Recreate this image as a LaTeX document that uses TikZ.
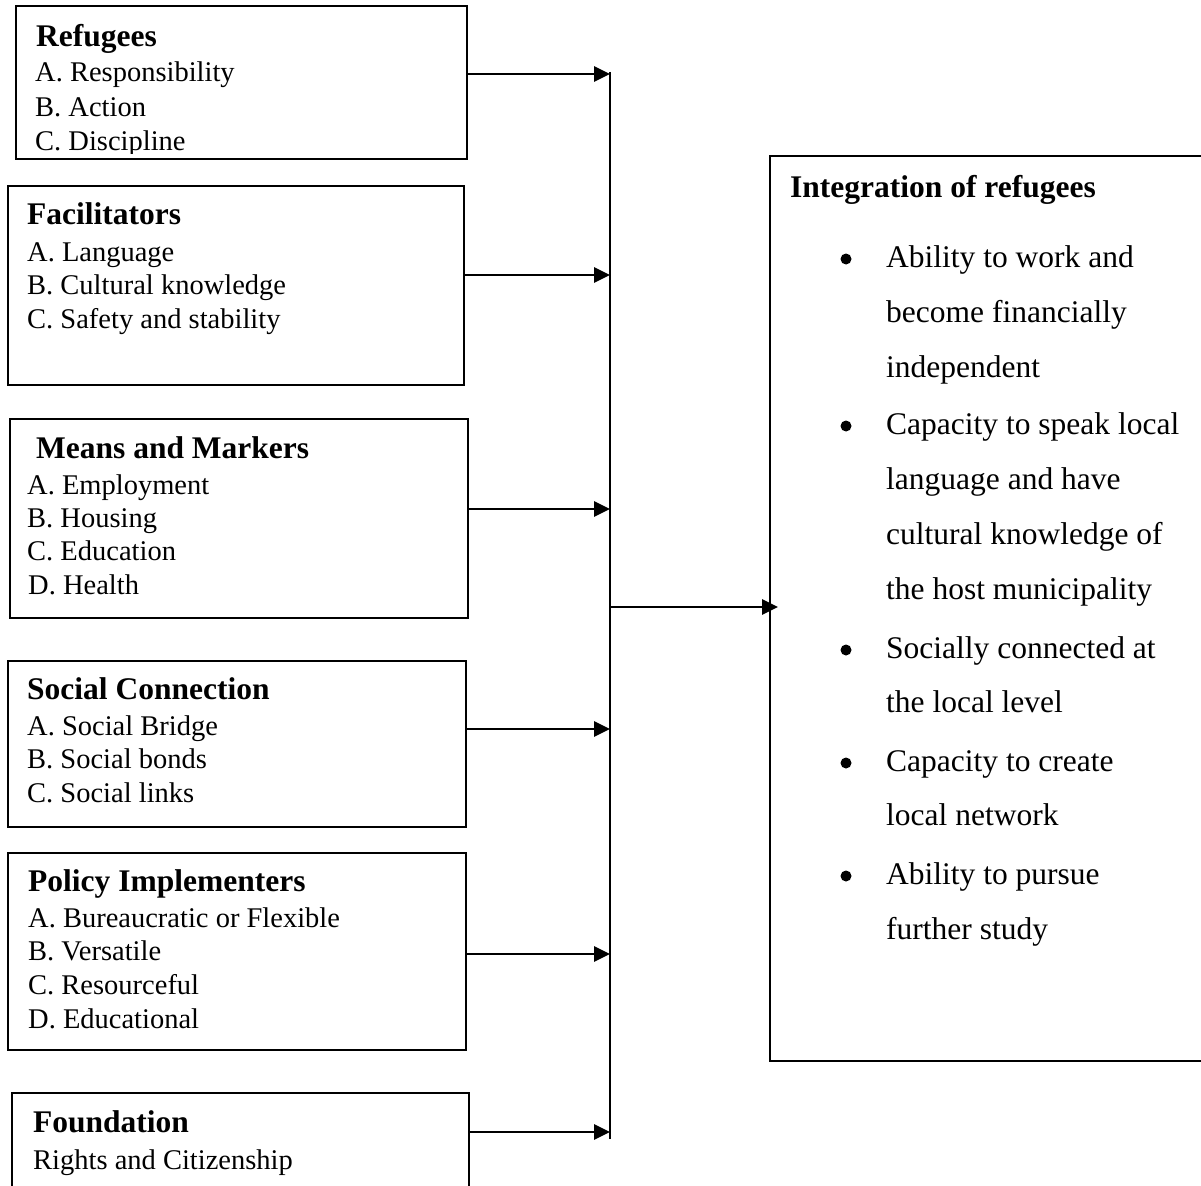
\documentclass[tikz,border=0pt]{standalone}
\usepackage{fontspec}
\setmainfont{Liberation Serif}
\usetikzlibrary{arrows.meta}
\begin{document}
\begin{tikzpicture}[x=1pt,y=-1pt,
 box/.style={draw,line width=2pt,inner sep=0,anchor=north west},
 hd/.style={anchor=base west,inner sep=0,font=\fontsize{31.5}{36}\selectfont\bfseries},
 it/.style={anchor=base west,inner sep=0,font=\fontsize{28.5}{33}\selectfont},
 rt/.style={anchor=base west,inner sep=0,font=\fontsize{31.5}{36}\selectfont},
 rh/.style={anchor=base west,inner sep=0,font=\fontsize{31.5}{36}\selectfont\bfseries},
 bul/.style={circle,fill,inner sep=0,minimum size=11pt},
 arr/.style={line width=2.8pt,-{Triangle[length=16pt,width=15pt]}},
 ln/.style={line width=2.2pt}]
\useasboundingbox (0,0) rectangle (1201,1185);
\clip (0,0) rectangle (1201,1185);
% boxes
\node[box,minimum width=451pt,minimum height=153pt] (refugees) at (15,5) {};
\node[box,minimum width=456pt,minimum height=199pt] (facil) at (7,185) {};
\node[box,minimum width=458pt,minimum height=199pt] (means) at (9,418) {};
\node[box,minimum width=458pt,minimum height=166pt] (social) at (7,660) {};
\node[box,minimum width=458pt,minimum height=197pt] (policy) at (7,852) {};
\node[box,minimum width=457pt,minimum height=120pt] (found) at (11,1092) {};
\node[box,minimum width=460pt,minimum height=905pt] (integ) at (769,155) {};
% texts
\begin{scope}
\clip (16,6) rectangle (465,154);
\node[hd] (r0) at (36,47) {Refugees};
\node[it] (r1) at (35,82) {A. Responsibility};
\node[it] (r2) at (35,117) {B. Action};
\node[it] (r3) at (35,151) {C. Discipline};
\end{scope}
\node[hd] (f0) at (27,224) {Facilitators};
\node[it] (f1) at (27,261) {A. Language};
\node[it] (f2) at (27,294) {B. Cultural knowledge};
\node[it] (f3) at (27,328) {C. Safety and stability};
\node[hd] (m0) at (36,458) {Means and Markers};
\node[it] (m1) at (27,494) {A. Employment};
\node[it] (m2) at (27,527) {B. Housing};
\node[it] (m3) at (27,560) {C. Education};
\node[it] (m4) at (28,594) {D. Health};
\node[hd] (s0) at (27,699) {Social Connection};
\node[it] (s1) at (27,735) {A. Social Bridge};
\node[it] (s2) at (27,768) {B. Social bonds};
\node[it] (s3) at (27,802) {C. Social links};
\node[hd] (p0) at (28,891) {Policy Implementers};
\node[it] (p1) at (28,927) {A. Bureaucratic or Flexible};
\node[it] (p2) at (28,960) {B. Versatile};
\node[it] (p3) at (28,994) {C. Resourceful};
\node[it] (p4) at (28,1028) {D. Educational};
\node[hd] (o0) at (33,1132) {Foundation};
\node[it] (o1) at (33,1169) {Rights and Citizenship};
% right box
\node[rh] (i0) at (790,197) {Integration of refugees};
\node[bul] (b1) at (846,259) {};
\node[rt] (i1) at (886,267) {Ability to work and};
\node[rt] (i2) at (886,322) {become financially};
\node[rt] (i3) at (886,377) {independent};
\node[bul] (b2) at (846,426) {};
\node[rt] (i4) at (886,434) {Capacity to speak local};
\node[rt] (i5) at (886,489) {language and have};
\node[rt] (i6) at (886,544) {cultural knowledge of};
\node[rt] (i7) at (886,599) {the host municipality};
\node[bul] (b3) at (846,650) {};
\node[rt] (i8) at (886,658) {Socially connected at};
\node[rt] (i9) at (886,712) {the local level};
\node[bul] (b4) at (846,763) {};
\node[rt] (i10) at (886,771) {Capacity to create};
\node[rt] (i11) at (886,825) {local network};
\node[bul] (b5) at (846,876) {};
\node[rt] (i12) at (886,884) {Ability to pursue};
\node[rt] (i13) at (886,939) {further study};
% connectors
\coordinate (top) at (610,72);
\coordinate (bot) at (610,1139);
\coordinate (t1) at (610,74);
\coordinate (t2) at (610,275);
\coordinate (t3) at (610,509);
\coordinate (t4) at (610,729);
\coordinate (t5) at (610,954);
\coordinate (t6) at (610,1132);
\coordinate (mid) at (610,607);
\coordinate (tip) at (778,607);
\draw[ln] (top) -- (bot);
\draw[arr] (refugees.east |- t1) -- (t1);
\draw[arr] (facil.east |- t2) -- (t2);
\draw[arr] (means.east |- t3) -- (t3);
\draw[arr] (social.east |- t4) -- (t4);
\draw[arr] (policy.east |- t5) -- (t5);
\draw[arr] (found.east |- t6) -- (t6);
\draw[arr] (mid) -- (tip);
\end{tikzpicture}
\end{document}
